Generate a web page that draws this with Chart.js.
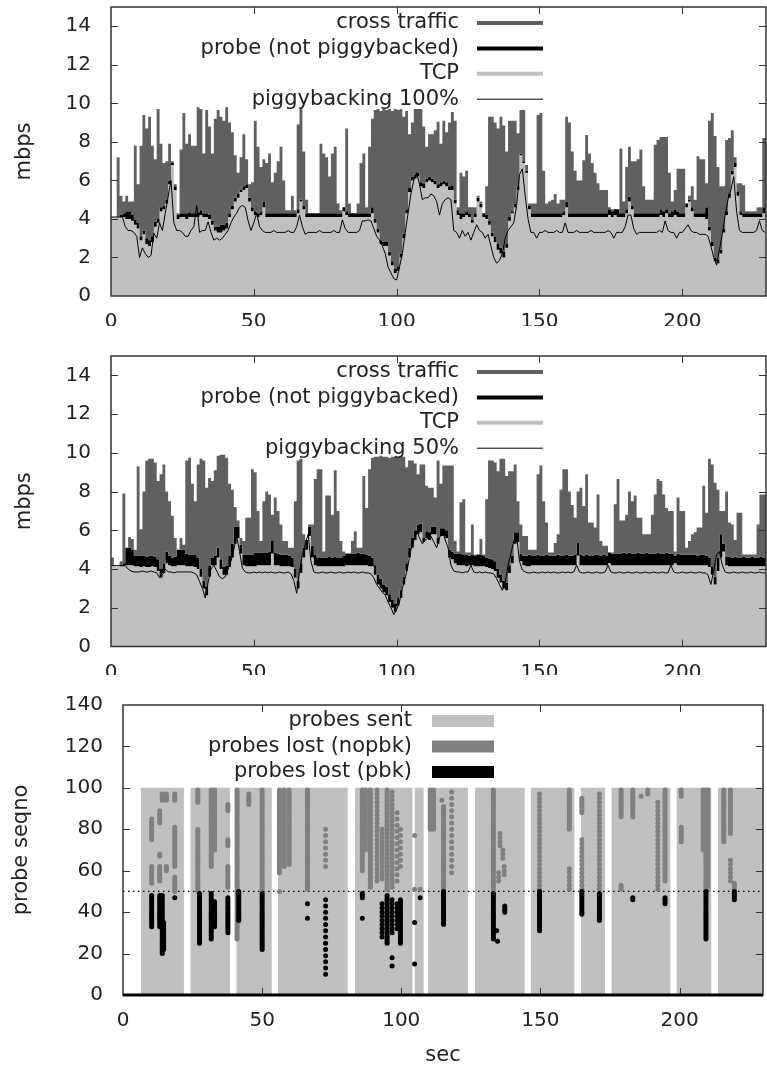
<!DOCTYPE html>
<html>
<head>
<meta charset="utf-8">
<script src="https://cdn.jsdelivr.net/npm/chart.js@4.4.1/dist/chart.umd.min.js"></script>
<style>
  html, body { margin: 0; padding: 0; background: #fff; }
  #wrap { position: relative; width: 767px; height: 1069px; overflow: hidden; }
  .panel { position: absolute; left: 0; width: 767px; }
  canvas { display: block; }
</style>
</head>
<body>
<div id="wrap">
  <div class="panel" style="top:0;height:326px"><canvas id="pbk100" width="767" height="326" style="width:767px;height:326px"></canvas></div>
  <div class="panel" style="top:330px;height:345px"><canvas id="pbk50" width="767" height="345" style="width:767px;height:345px"></canvas></div>
  <div class="panel" style="top:680px;height:389px"><canvas id="losses" width="767" height="389" style="width:767px;height:389px"></canvas></div>
</div>
<script>
// ---- axes and labels ----
const secTicks = [0, 50, 100, 150, 200];
const mbpsTicks = [0, 2, 4, 6, 8, 10, 12, 14];
const seqnoTicks = [0, 20, 40, 60, 80, 100, 120, 140];
const trafficNames = ['cross traffic', 'probe (not piggybacked)', 'TCP'];
const pbkNames = ['piggybacking 100%', 'piggybacking 50%'];
const lossNames = ['probes sent', 'probes lost (nopbk)', 'probes lost (pbk)'];
const splitSeqno = 50;
const sentTop = 100;

// ---- run with 100% piggybacking: stacked levels per second (mbps) ----
const tcp100 = [
  4.1,4.1,4.1,4.1,4.1,4.0,4.0,3.9,3.7,3.5, 2.9,3.2,2.7,2.6,2.8,3.6,3.8,4.4,4.5,4.8,
  5.8,6.8,5.5,4.0,4.1,4.1,4.0,4.1,4.1,4.1, 4.1,4.2,4.1,4.1,4.0,3.7,3.4,3.3,3.3,3.4,
  3.5,4.1,4.5,4.9,5.1,5.4,5.5,5.6,4.9,4.4, 4.2,4.1,4.2,4.6,4.1,4.1,4.1,4.1,4.1,4.1,
  4.1,4.1,4.1,4.1,4.1,4.3,4.9,4.5,4.1,4.1, 4.1,4.1,4.1,4.1,4.1,4.1,4.1,4.1,4.1,4.1,
  4.1,4.4,4.2,4.1,4.1,4.1,4.1,4.1,4.1,4.1, 4.1,4.3,3.8,3.3,2.7,2.6,2.6,2.1,1.6,1.2,
  1.3,2.0,3.0,4.3,5.4,6.0,6.1,6.2,5.7,5.6, 5.9,6.0,5.9,5.8,5.6,5.7,5.8,5.7,5.5,5.5,
  4.8,4.2,4.0,4.1,4.2,4.1,3.8,4.1,4.9,4.6, 4.1,4.0,3.7,3.1,2.8,2.4,2.2,2.0,2.5,3.9,
  4.3,4.6,5.5,7.3,6.9,6.4,4.5,4.1,4.1,4.1, 4.1,4.1,4.1,4.1,4.1,4.1,4.1,4.1,4.2,4.6,
  4.1,4.1,4.1,4.1,4.1,4.1,4.1,4.1,4.1,4.1, 4.1,4.1,4.1,4.1,4.2,4.1,4.2,4.1,4.1,4.1,
  4.3,4.9,4.5,4.1,4.1,4.1,4.1,4.1,4.1,4.1, 4.1,4.1,4.2,4.1,4.3,4.1,4.1,4.2,4.1,4.1,
  4.1,4.6,4.9,4.4,4.1,4.1,4.1,4.1,4.0,3.4, 2.6,1.8,1.7,2.2,3.3,4.2,5.1,6.3,6.7,5.2,
  4.2,4.1,4.1,4.1,4.1,4.1,4.1,4.1,4.3,4.1
];
const probe100 = [
  4.1,4.1,4.1,4.2,4.3,4.4,4.4,4.2,3.95,3.8, 3.1,3.4,3.0,2.9,3.1,3.85,4.0,4.6,4.7,5.0,
  6.0,6.9,5.7,4.2,4.3,4.3,4.3,4.35,4.3,4.3, 4.35,4.45,4.3,4.3,4.2,3.9,3.6,3.6,3.7,3.7,
  3.8,4.3,4.7,5.1,5.3,5.5,5.7,5.8,5.1,4.6, 4.4,4.3,4.4,4.9,4.3,4.3,4.3,4.3,4.3,4.3,
  4.3,4.3,4.3,4.3,4.3,4.5,5.0,4.7,4.3,4.3, 4.3,4.3,4.3,4.3,4.3,4.3,4.3,4.3,4.3,4.3,
  4.3,4.6,4.4,4.3,4.3,4.3,4.3,4.3,4.3,4.3, 4.3,4.6,4.0,3.5,2.9,2.8,2.8,2.3,1.8,1.4,
  1.5,2.2,3.25,4.5,5.6,6.2,6.3,6.4,5.9,5.85, 6.1,6.2,6.1,6.0,5.8,5.9,6.0,5.9,5.7,5.75,
  5.0,4.45,4.3,4.3,4.4,4.3,3.95,4.3,5.1,4.8, 4.3,4.2,3.9,3.3,3.1,2.7,2.5,2.3,2.7,4.1,
  4.4,4.8,5.7,7.4,7.0,6.5,4.7,4.3,4.3,4.3, 4.3,4.3,4.3,4.3,4.3,4.3,4.3,4.3,4.4,4.9,
  4.3,4.3,4.3,4.3,4.3,4.3,4.3,4.3,4.3,4.3, 4.3,4.3,4.3,4.3,4.5,4.4,4.5,4.5,4.3,4.3,
  4.5,5.15,4.7,4.3,4.3,4.3,4.3,4.3,4.3,4.3, 4.3,4.3,4.5,4.4,4.5,4.3,4.4,4.5,4.4,4.3,
  4.3,4.8,5.0,4.6,4.3,4.3,4.3,4.3,4.6,3.6, 2.8,2.0,1.9,2.4,3.5,4.4,5.3,6.5,6.9,5.4,
  4.4,4.3,4.3,4.3,4.3,4.3,4.3,4.3,4.6,4.3
];
const cross100 = [
  4.1,4.1,7.2,5.2,4.9,5.2,4.9,4.9,7.8,5.8, 7.8,9.4,8.7,9.3,7.8,7.1,9.7,7.9,6.9,7.0,
  7.9,7.0,5.8,4.3,7.6,9.5,7.9,8.4,7.8,7.8, 9.8,9.7,7.4,9.65,8.8,7.4,9.2,9.65,9.3,9.1,
  9.8,9.0,8.5,7.3,6.4,7.2,8.4,7.1,5.8,5.9, 9.1,7.75,6.7,7.1,6.9,7.4,5.9,6.4,7.0,7.75,
  6.0,4.45,4.45,5.2,4.45,8.9,9.7,7.5,5.0,4.3, 4.3,4.3,4.3,7.9,7.4,7.2,6.2,7.4,7.75,4.8,
  4.45,4.6,8.7,4.8,4.3,4.3,4.8,6.9,7.4,4.6, 7.75,9.2,9.65,9.7,9.6,9.7,9.65,9.7,9.6,9.7,
  9.65,9.7,9.3,9.6,8.4,9.0,9.7,9.7,9.7,8.8, 7.75,8.4,8.4,8.6,9.05,7.9,9.1,8.5,9.0,9.55,
  9.1,4.6,6.4,6.2,6.5,4.6,4.6,4.6,5.2,4.9, 4.3,5.7,9.3,9.3,9.0,8.7,9.3,8.85,7.5,9.1,
  9.1,9.1,8.45,9.65,9.65,6.8,4.8,4.8,4.8,9.4, 9.5,6.5,4.8,4.9,5.0,5.3,4.8,5.0,5.0,9.3,
  9.0,7.5,6.5,6.0,6.0,7.05,8.35,7.4,6.9,6.4, 5.85,5.5,5.5,5.5,4.6,4.5,4.5,4.5,7.65,4.9,
  6.7,7.75,7.0,7.0,7.1,7.6,5.7,5.0,5.0,5.0, 7.85,8.1,8.25,8.25,8.25,6.4,4.9,5.5,6.6,6.6,
  6.6,4.8,5.2,5.7,5.0,7.25,7.1,7.1,5.85,9.1, 9.5,8.3,6.7,5.7,5.7,8.1,8.2,8.6,7.2,5.85,
  5.85,5.75,4.4,4.4,4.4,4.4,4.6,4.6,8.2,8.2
];
const tcpPbk100 = [
  4.1,4.1,4.1,4.1,4.1,3.6,3.4,3.4,3.3,3.1, 2.0,2.5,2.2,2.0,2.1,3.25,3.0,3.8,3.4,4.3,
  5.15,6.0,3.8,3.4,3.4,3.3,3.1,3.1,3.4,3.6, 4.7,3.3,3.4,3.4,3.85,3.3,2.9,3.0,2.9,3.0,
  3.2,3.4,3.8,4.1,4.3,4.6,4.7,4.6,3.9,3.4, 3.8,4.3,3.6,3.4,3.3,3.3,3.3,3.4,3.3,3.3,
  3.3,3.3,3.4,3.3,3.3,3.6,4.2,3.6,3.2,3.3, 3.3,3.3,3.3,3.4,3.3,3.3,3.3,3.3,3.4,3.3,
  3.3,3.95,3.5,3.3,3.3,3.3,3.3,3.4,3.9,3.9, 3.95,3.9,3.5,3.1,2.9,2.6,2.2,1.5,1.2,0.9,
  0.83,1.5,2.2,3.3,4.3,5.3,6.0,6.4,5.8,5.0, 5.1,5.1,5.3,5.2,4.9,4.2,4.8,5.0,5.1,5.0,
  3.4,3.3,3.0,3.4,3.1,3.3,2.9,3.3,3.7,3.4, 3.3,3.0,3.2,2.6,2.0,1.7,1.85,2.2,3.0,3.4,
  3.6,3.8,4.7,6.3,6.6,5.2,4.0,3.3,3.3,3.0, 3.3,3.3,3.4,3.3,3.3,3.3,3.4,3.3,3.3,3.8,
  3.3,3.3,3.3,3.4,3.3,3.3,3.3,3.3,3.4,3.3, 3.3,3.3,3.3,3.3,3.4,3.3,3.0,3.3,3.3,3.3,
  3.6,4.2,4.2,3.5,3.2,3.3,3.3,3.3,3.3,3.3, 3.3,3.3,3.4,3.3,3.9,3.4,3.3,3.3,3.0,3.3,
  3.3,3.5,3.7,3.4,3.3,3.3,3.2,3.2,3.2,3.1, 2.6,2.0,1.6,2.4,3.2,4.2,5.0,5.5,6.2,4.4,
  3.4,3.3,3.3,3.3,3.3,3.3,3.4,3.9,3.4,3.3
];

// ---- run with 50% piggybacking: stacked levels per second (mbps) ----
const tcp50 = [
  4.15,4.15,4.15,4.15,4.15,4.2,4.2,4.2,4.15,4.15, 4.1,4.15,4.1,4.1,4.15,4.1,3.9,3.55,3.8,4.3,
  4.2,4.15,4.15,4.2,4.2,4.2,4.15,4.15,4.15,4.1, 4.0,3.6,3.0,2.65,3.6,4.2,4.2,4.6,4.0,3.7,
  3.7,4.1,4.6,5.3,5.6,4.8,4.2,4.15,4.15,4.15, 4.15,4.2,4.2,4.2,4.2,4.2,4.8,4.2,4.2,4.15,
  4.15,4.15,4.15,4.1,3.55,3.0,3.8,4.6,5.0,5.7, 4.6,4.2,4.15,4.15,4.15,4.15,4.15,4.15,4.15,4.15,
  4.15,4.15,4.2,4.2,4.2,4.2,4.2,4.2,4.2,4.2, 4.15,4.15,3.7,3.2,3.0,2.8,2.65,2.3,2.0,1.8,
  2.1,2.5,3.2,3.9,4.6,5.1,5.5,5.8,5.9,5.4, 5.6,5.5,5.8,5.8,5.3,5.7,5.7,5.6,4.6,4.5,
  4.3,4.2,4.2,4.2,4.15,4.2,4.2,4.15,4.15,4.15, 4.15,4.1,4.05,4.0,3.9,3.55,3.3,3.0,2.9,3.8,
  4.3,5.3,5.4,4.4,4.2,4.15,4.15,4.2,4.2,4.2, 4.2,4.2,4.2,4.2,4.2,4.2,4.2,4.2,4.2,4.2,
  4.2,4.2,4.2,4.7,4.2,4.2,4.2,4.2,4.2,4.2, 4.2,4.2,4.2,4.2,4.3,4.2,4.2,4.2,4.2,4.2,
  4.2,4.2,4.2,4.2,4.2,4.2,4.2,4.2,4.2,4.2, 4.2,4.2,4.2,4.2,4.2,4.2,4.2,4.3,4.2,4.2,
  4.2,4.2,4.2,4.2,4.2,4.2,4.2,4.2,4.2,4.1, 3.7,3.2,3.9,4.6,4.9,4.2,4.15,4.15,4.15,4.15,
  4.15,4.15,4.15,4.15,4.15,4.15,4.15,4.15,4.15,4.15
];
const probe50 = [
  4.15,4.15,4.15,4.2,4.3,5.1,5.1,5.0,4.7,4.7, 4.7,4.7,4.65,4.7,4.7,4.65,4.5,4.0,4.3,4.9,
  4.7,4.6,4.65,5.0,5.0,5.0,4.8,4.75,4.75,4.75, 4.6,4.0,3.4,3.1,4.2,4.6,4.7,5.1,4.5,4.1,
  4.2,4.7,5.3,6.2,6.2,5.25,4.75,4.75,4.75,4.75, 4.85,4.85,4.85,4.85,4.85,4.9,5.45,4.85,4.8,4.75,
  4.75,4.75,4.7,4.6,4.0,3.4,4.3,5.1,5.5,6.2, 5.2,4.75,4.6,4.6,4.6,4.6,4.65,4.6,4.65,4.6,
  4.6,4.7,4.8,4.8,4.8,4.8,4.85,4.8,4.8,4.75, 4.7,4.6,4.2,3.7,3.5,3.2,3.1,2.7,2.4,2.2,
  2.5,2.9,3.6,4.3,5.1,5.6,6.0,6.3,6.35,5.6, 5.95,5.9,6.2,6.2,5.6,6.1,6.1,6.0,5.0,4.9,
  4.8,4.8,4.8,4.75,4.75,4.7,4.75,4.7,4.75,4.75, 4.7,4.6,4.55,4.5,4.4,4.0,3.7,3.4,3.3,4.2,
  4.7,5.9,5.9,4.8,4.7,4.7,4.75,4.7,4.7,4.75, 4.7,4.7,4.75,4.7,4.7,4.7,4.75,4.7,4.7,4.75,
  4.7,4.7,4.75,5.35,4.75,4.7,4.75,4.7,4.7,4.75, 4.75,4.7,4.75,4.7,4.85,4.8,4.8,4.8,4.8,4.85,
  4.8,4.85,4.8,4.8,4.85,4.8,4.8,4.85,4.8,4.8, 4.8,4.85,4.8,4.8,4.85,4.8,4.8,4.7,4.8,4.75,
  4.75,4.75,4.75,4.75,4.75,4.7,4.75,4.75,4.7,4.6, 4.1,3.6,4.6,5.8,5.3,4.65,4.65,4.6,4.65,4.6,
  4.6,4.65,4.6,4.6,4.65,4.6,4.6,4.65,4.6,4.6
];
const cross50 = [
  4.6,4.15,4.15,4.4,7.9,5.1,5.65,5.55,5.0,9.3, 6.05,8.0,9.6,9.7,9.7,9.5,8.55,8.9,9.4,8.0,
  7.5,6.75,5.6,5.0,5.6,5.25,9.6,9.75,8.4,7.5, 9.4,9.7,9.6,8.2,8.7,8.55,9.1,9.85,9.9,9.9,
  9.75,8.4,8.1,7.2,6.5,5.6,5.45,6.65,6.65,9.15, 9.0,7.0,5.45,7.5,8.0,7.85,6.8,7.7,7.0,6.3,
  5.45,5.45,5.1,5.1,7.5,9.6,9.7,5.8,5.5,6.3, 6.3,8.65,9.15,9.15,4.9,7.8,7.8,6.8,9.1,7.0,
  5.45,4.9,4.8,4.8,5.45,5.95,5.1,5.1,8.8,7.15, 9.15,9.75,9.8,9.8,9.85,9.8,9.8,9.75,9.8,9.8,
  9.8,9.85,9.8,9.25,9.6,9.6,9.45,8.9,9.4,9.4, 8.3,8.2,8.2,7.7,9.6,8.4,9.35,9.35,9.35,9.35,
  5.45,4.9,7.45,7.6,4.85,4.85,6.3,4.75,4.75,5.55, 4.75,7.6,9.6,9.6,9.5,9.05,9.7,9.7,8.8,9.05,
  9.05,9.4,7.5,6.3,5.7,5.7,5.0,5.0,5.0,8.9, 9.35,7.5,6.4,4.85,4.85,5.35,5.8,8.1,9.15,9.15,
  8.0,7.3,6.65,8.0,8.2,7.25,8.9,6.4,6.4,6.15, 7.85,5.45,5.2,5.2,4.85,4.85,7.35,8.65,6.5,6.5,
  6.8,8.0,7.5,7.8,6.65,6.65,5.8,5.8,5.8,6.8, 7.85,8.65,8.55,7.85,7.15,7.0,7.0,4.9,7.7,7.0,
  7.0,5.1,5.45,5.8,5.9,6.15,6.15,8.3,6.9,9.7, 9.4,8.45,8.1,7.0,7.0,8.0,6.4,6.3,5.5,6.9,
  6.9,4.75,4.75,4.75,4.75,4.75,6.3,7.85,7.85,7.85
];
const tcpPbk50 = [
  4.18,4.18,4.18,4.18,4.18,4.18,4.0,3.9,3.85,3.85, 3.85,3.9,3.85,3.85,3.9,3.85,3.8,3.55,3.7,4.0,
  3.85,3.85,3.8,3.85,3.85,3.85,3.85,3.85,3.85,3.8, 3.7,3.35,3.0,2.5,3.3,4.0,4.2,3.9,3.6,3.5,
  3.6,4.0,4.4,5.0,5.7,4.9,4.05,3.85,3.8,3.8, 3.85,3.8,3.85,3.8,3.85,3.8,3.85,3.8,3.8,3.85,
  3.8,3.8,3.85,3.75,3.4,2.75,3.9,4.75,5.3,5.8, 4.4,3.85,3.8,3.8,3.85,3.8,3.8,3.85,3.8,3.8,
  3.85,3.8,3.8,3.85,3.8,3.85,3.8,3.8,3.85,3.8, 3.8,3.75,3.55,3.2,3.0,2.8,2.65,2.3,2.0,1.65,
  1.9,2.3,3.0,3.55,4.2,5.0,5.45,5.95,5.6,5.3, 5.5,5.6,5.7,5.4,5.1,5.6,6.0,5.5,5.1,4.2,
  3.9,3.85,3.85,3.8,3.85,3.85,4.2,3.85,3.8,3.85, 3.8,3.85,3.8,3.8,3.75,3.5,3.2,2.9,3.3,4.2,
  4.8,5.45,5.7,4.4,3.95,3.85,3.8,3.8,3.85,3.8, 3.8,3.85,3.8,3.85,3.8,3.85,3.8,3.8,3.85,3.8,
  3.85,3.8,3.85,4.2,3.85,3.8,3.8,3.85,3.8,3.8, 3.85,3.8,3.8,3.85,4.2,3.85,3.8,3.8,3.85,3.8,
  3.8,3.85,3.8,3.8,3.85,3.8,3.8,3.85,3.8,3.8, 3.85,3.8,3.8,3.85,3.8,3.8,4.2,3.85,3.8,3.8,
  3.85,3.8,3.8,3.85,3.8,3.8,3.85,3.8,3.8,3.7, 3.2,3.9,4.75,4.9,4.2,3.85,3.8,3.8,3.85,3.8,
  3.8,3.85,3.8,3.8,3.85,3.8,3.8,3.85,3.8,3.8
];

// ---- probe sequence numbers: sending periods (sec) and losses [sec, first, last, stride] ----
const sentSpans = [
  [6.4,21.9],[24.2,38.5],[40.7,53.5],[55.7,80.8],[83.3,104.1],[104.8,108.1],[109.6,124.1],
  [126.5,144.4],[146.5,162.3],[164.6,173.3],[175.5,196.8],[198.9,211.5],[213.8,230]
];
const lostNopbk = [
  [10.3,75,85],[10.3,54,62],[13.2,83,89],[13.2,67,68],[13.2,55,62],[14.1,94,97],[15.6,94,97],[15.6,60,62],
  [18.6,94,97],[18.6,62,81],[18.6,50,57],[26.9,93,99],[26.9,50,80],[31.7,62,99],[32.9,70,99],
  [37.7,89,92],[37.7,72,75],[37.7,52,62],[41.0,27,99],[45.2,92,97],[50.0,51,99],
  [56.2,59,99],[56.2,50,50],[57.9,62,99],[59.7,63,99],[66.3,51,99],[72.8,62,82,3],
  [86.0,60,99],[87.1,70,99],[88.9,52,99],[91.3,55,99,2],[93.1,56,80,2],[94.9,51,99],[96.7,52,99,2],
  [98.5,55,90,3],[99.7,62,80,3],[104.8,77,77],[104.8,51,51],[106.8,51,51],
  [110.4,80,99],[111.6,80,99],[114.6,94,94],[115.2,51,91],[118.1,59,99,3],
  [133.1,51,99],[135.5,72,78,2],[136.5,66,70,2],[137.0,58,62,2],[135.0,55,60,2],
  [149.7,51,97,2],[160.4,80,99],[160.4,51,62,2],[164.9,88,95],[164.9,51,75,2],[171.2,51,97,2],
  [179.0,86,99],[179.0,51,53],[183.2,86,99],[186.2,96,96],[188.6,97,99],[192.2,51,93,2],
  [194.8,55,99],[200.6,96,99],[200.6,74,81],[208.5,70,99],[209.5,51,99],[210.2,51,99],
  [215.9,74,99],[218.3,78,99],[218.3,55,66,2],[219.7,51,54]
];
const lostPbk = [
  [10.3,33,48],[13.2,33,48],[14.1,20,48],[14.6,22,35],[18.6,47,47],
  [27.5,25,49],[31.7,27,49],[32.9,33,45],[37.7,30,47],[41.6,36,50],[50.0,22,49],
  [66.3,44,44],[66.3,37,37],[72.8,10,48,3],[86.0,47,49],[86.0,37,37],
  [93.1,28,44,2],[94.9,25,48],[96.7,30,47,2],[96.7,18,18],[96.7,14,14],[98.5,32,44,2],[99.7,25,46],
  [104.8,35,35],[104.8,15,15],[106.8,47,47],[115.2,34,50],
  [133.1,27,49],[134.3,31,31],[134.6,26,26],[137.2,40,43],[149.7,31,50],[164.9,39,50],
  [171.2,36,49],[183.2,46,47],[194.8,44,47],[209.5,27,50],[219.7,46,50]
];

// ---- styling ----
const FONT = "'DejaVu Sans', sans-serif";
const INK = '#222';
const COL = { cross: '#606060', probe: '#000000', tcp: '#c0c0c0', sent: '#c0c0c0', nopbk: '#808080', pbk: '#000000' };
Chart.defaults.font.family = FONT;

// one value per second, held until the next second
const perSecond = arr => arr.map((v, i) => ({ x: i, y: v })).concat([{ x: arr.length, y: arr[arr.length - 1] }]);
const trace = arr => arr.map((v, i) => ({ x: i, y: v }));
const lossPoints = runs => {
  const pts = [];
  for (const [t, first, last, stride = 1] of runs)
    for (let s = first; s <= last; s += stride) pts.push({ x: t, y: s });
  return pts;
};

// plot frame with inward ticks and the right-aligned key
const frame = {
  id: 'frame',
  afterDatasetsDraw(chart, args, o) {
    const { ctx, chartArea: a } = chart;
    const sx = chart.scales.x, sy = chart.scales.y;
    ctx.save();
    ctx.strokeStyle = '#333';
    ctx.lineWidth = 1;
    ctx.beginPath();
    for (const v of o.yTicks) {
      const p = Math.round(sy.getPixelForValue(v)) + 0.5;
      if (p > a.bottom - 2 || p < a.top + 2) continue;
      ctx.moveTo(a.left, p); ctx.lineTo(a.left + 7, p);
      ctx.moveTo(a.right - 7, p); ctx.lineTo(a.right, p);
    }
    for (const v of secTicks) {
      const p = Math.round(sx.getPixelForValue(v)) + 0.5;
      if (p < a.left + 2) continue;
      ctx.moveTo(p, a.bottom); ctx.lineTo(p, a.bottom - 7);
      ctx.moveTo(p, a.top); ctx.lineTo(p, a.top + 7);
    }
    ctx.stroke();
    ctx.lineWidth = 1.5;
    ctx.strokeRect(a.left, a.top, a.right - a.left, a.bottom - a.top);
    if (o.baseWidth) {
      ctx.strokeStyle = '#000';
      ctx.lineWidth = o.baseWidth;
      ctx.beginPath(); ctx.moveTo(a.left, a.bottom); ctx.lineTo(a.right, a.bottom); ctx.stroke();
    }
    ctx.font = '21px ' + FONT;
    ctx.textAlign = 'right';
    ctx.textBaseline = 'middle';
    o.key.forEach((it, i) => {
      const y = a.top + o.keyTop + i * o.keyStep;
      ctx.fillStyle = INK;
      ctx.fillText(it.text, o.textRight, y);
      if (it.box) {
        ctx.fillStyle = it.color;
        ctx.fillRect(o.sampleFrom, y - 6, o.sampleTo - o.sampleFrom, 12);
      } else {
        ctx.strokeStyle = it.color;
        ctx.lineWidth = it.width;
        ctx.beginPath(); ctx.moveTo(o.sampleFrom, y); ctx.lineTo(o.sampleTo, y); ctx.stroke();
      }
    });
    ctx.restore();
  }
};

function axes(o) {
  return {
    x: {
      type: 'linear', min: 0, max: o.xMax,
      afterFit: s => { s.height = o.xHeight; s.paddingLeft = 0; s.paddingRight = 0; },
      afterBuildTicks: s => { s.ticks = secTicks.map(v => ({ value: v })); },
      grid: { display: false, drawTicks: false }, border: { display: false },
      ticks: { color: INK, font: { size: 20 }, padding: o.xPad, maxRotation: 0, autoSkip: false },
      title: o.xTitle
        ? { display: true, text: o.xTitle, color: INK, font: { size: 21 }, padding: { top: 0, bottom: 1 } }
        : { display: false }
    },
    y: {
      type: 'linear', min: 0, max: o.yMax,
      afterFit: s => { s.width = o.yWidth; s.paddingTop = 0; s.paddingBottom = 0; },
      afterBuildTicks: s => { s.ticks = o.yTicks.map(v => ({ value: v })); },
      grid: { display: false, drawTicks: false }, border: { display: false },
      ticks: { color: INK, font: { size: 20 }, padding: 20 },
      title: { display: true, text: o.yTitle, color: INK, font: { size: 21 }, padding: { top: o.yTitlePad, bottom: 0 } }
    }
  };
}

function throughputPanel(id, tcp, probe, cross, pbk, pbkName, padTop, xHeight) {
  const area = (label, data, fill, color, order) => ({
    label, data: perSecond(data), stepped: true, fill, backgroundColor: color,
    borderWidth: 0, borderColor: 'rgba(0,0,0,0)', pointRadius: 0, order
  });
  new Chart(document.getElementById(id), {
    type: 'line',
    data: {
      datasets: [
        area(trafficNames[2], tcp, 'origin', COL.tcp, 4),
        area(trafficNames[1], probe, '-1', COL.probe, 3),
        area(trafficNames[0], cross, '-1', COL.cross, 2),
        { label: pbkName, data: trace(pbk), borderColor: '#000', borderWidth: 1, pointRadius: 0, fill: false, order: 1 }
      ]
    },
    options: {
      responsive: false, animation: false, devicePixelRatio: 1, events: [],
      layout: { padding: { top: padTop, right: 1, left: 0, bottom: 0 } },
      plugins: {
        legend: { display: false }, tooltip: { enabled: false },
        frame: {
          yTicks: mbpsTicks, keyTop: 16, keyStep: 25.4, textRight: 459, sampleFrom: 477, sampleTo: 543,
          key: [
            { text: trafficNames[0], color: COL.cross, width: 4 },
            { text: trafficNames[1], color: COL.probe, width: 4 },
            { text: trafficNames[2], color: COL.tcp, width: 4 },
            { text: pbkName, color: '#000', width: 1 }
          ]
        }
      },
      scales: axes({ xMax: 229.3, xHeight, xPad: 14, yMax: 15, yTicks: mbpsTicks, yWidth: 111, yTitle: 'mbps', yTitlePad: 12 })
    },
    plugins: [frame]
  });
}

throughputPanel('pbk100', tcp100, probe100, cross100, tcpPbk100, pbkNames[0], 7, 30);
throughputPanel('pbk50', tcp50, probe50, cross50, tcpPbk50, pbkNames[1], 26, 28.5);

// probe sequence panel
const sentPoints = [];
for (const [from, to] of sentSpans) sentPoints.push({ x: from, y: sentTop }, { x: to, y: sentTop }, { x: to, y: null });

new Chart(document.getElementById('losses'), {
  type: 'line',
  data: {
    datasets: [
      { label: lossNames[0], data: sentPoints, fill: 'origin', backgroundColor: COL.sent, borderWidth: 0,
        borderColor: 'rgba(0,0,0,0)', pointRadius: 0, spanGaps: false, order: 4 },
      { label: 'split', data: [{ x: 0, y: splitSeqno }, { x: 230, y: splitSeqno }], borderColor: '#000',
        borderWidth: 1.2, borderDash: [1.5, 3.5], pointRadius: 0, fill: false, order: 3 },
      { label: lossNames[1], data: lossPoints(lostNopbk), showLine: false, pointRadius: 2.5,
        backgroundColor: COL.nopbk, borderWidth: 0, order: 2 },
      { label: lossNames[2], data: lossPoints(lostPbk), showLine: false, pointRadius: 2.5,
        backgroundColor: COL.pbk, borderWidth: 0, order: 1 }
    ]
  },
  options: {
    responsive: false, animation: false, devicePixelRatio: 1, events: [],
    layout: { padding: { top: 25, right: 1, left: 0, bottom: 0 } },
    plugins: {
      legend: { display: false }, tooltip: { enabled: false },
      frame: {
        yTicks: seqnoTicks, baseWidth: 3, keyTop: 16, keyStep: 25.5, textRight: 412, sampleFrom: 432, sampleTo: 494,
        key: [
          { text: lossNames[0], color: COL.sent, box: true },
          { text: lossNames[1], color: COL.nopbk, box: true },
          { text: lossNames[2], color: COL.pbk, box: true }
        ]
      }
    },
    scales: axes({ xMax: 230, xHeight: 74, xPad: 14, xTitle: 'sec', yMax: 140, yTicks: seqnoTicks, yWidth: 123, yTitle: 'probe seqno', yTitlePad: 9 })
  },
  plugins: [frame]
});
</script>
</body>
</html>
